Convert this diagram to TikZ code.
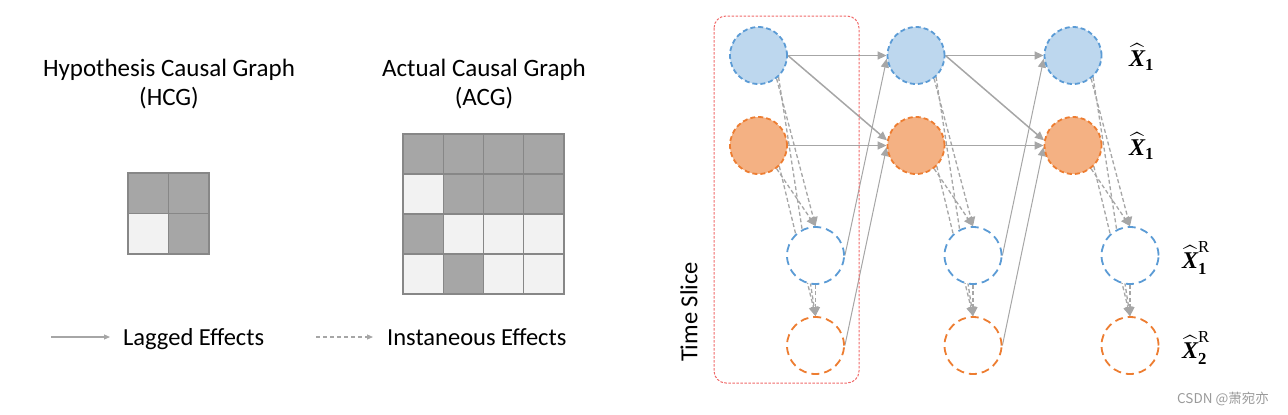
\documentclass[tikz,border=0pt]{standalone}
\usepackage{amsmath}
\usepackage{fontspec}
\setmainfont{Carlito}
\newfontfamily\cjk{Noto Sans CJK SC}
\newfontfamily\lsf{Liberation Serif}
\usetikzlibrary{arrows.meta}
\pgfdeclarelayer{bg}
\pgfsetlayers{bg,main}
\definecolor{cdark}{HTML}{A6A6A6}
\definecolor{clight}{HTML}{F2F2F2}
\definecolor{gridc}{HTML}{878787}
\definecolor{bfill}{HTML}{BDD7EE}
\definecolor{bline}{HTML}{5B9BD5}
\definecolor{ofill}{HTML}{F4B183}
\definecolor{oline}{HTML}{ED7D31}
\definecolor{arrc}{HTML}{A6A6A6}
\definecolor{boxred}{HTML}{F06A6A}
\definecolor{wm}{HTML}{9A9A9A}
\newcommand{\xh}[1]{\widehat{\text{\lsf\bfseries\itshape X}}_{\text{\lsf\bfseries #1}}}
\begin{document}
\begin{tikzpicture}[x=1pt,y=-1pt,
  cellbox/.style={draw=gridc, line width=1.2pt},
  big/.style={circle, minimum size=57pt, inner sep=0pt, line width=1.8pt, dash pattern=on 5pt off 3pt},
  bigB/.style={big, fill=bfill, draw=bline},
  bigO/.style={big, fill=ofill, draw=oline},
  small/.style={circle, minimum size=57pt, inner sep=0pt, fill=white, line width=1.8pt, dash pattern=on 8pt off 5pt},
  smallB/.style={small, draw=bline},
  smallO/.style={small, draw=oline},
  lag/.style={draw=arrc, line width=1.5pt, -{Triangle[length=9pt,width=8pt]}},
  lagthin/.style={lag, line width=1pt},
  inst/.style={draw=arrc, line width=1.3pt, dash pattern=on 4pt off 2.5pt, -{Triangle[length=9pt,width=9pt]}},
  lbl/.style={inner sep=0pt, font=\fontsize{24.5}{28}\selectfont},
  title/.style={inner sep=0pt, font=\fontsize{25}{28}\selectfont},
  xl/.style={inner sep=0pt, font=\fontsize{24}{27}\selectfont}
]
\useasboundingbox (0,0) rectangle (1288,415);

% titles
\node[title, anchor=base] (t1) at (169,76) {Hypothesis Causal Graph};
\node[title, anchor=base] (t2) at (169,105) {(HCG)};
\node[title, anchor=base] (t3) at (484,76) {Actual Causal Graph};
\node[title, anchor=base] (t4) at (484,105) {(ACG)};

% HCG grid
\foreach \r/\c/\f in {0/0/cdark,0/1/cdark,1/0/clight,1/1/cdark}{
  \draw[cellbox, fill=\f] (128+\c*40.5,173+\r*40.5) rectangle ++(40.5,40.5);
}
% ACG grid
\foreach \r/\c/\f in {0/0/cdark,0/1/cdark,0/2/cdark,0/3/cdark,
                      1/0/clight,1/1/cdark,1/2/cdark,1/3/cdark,
                      2/0/cdark,2/1/clight,2/2/clight,2/3/clight,
                      3/0/clight,3/1/cdark,3/2/clight,3/3/clight}{
  \draw[cellbox, fill=\f] (403+\c*40.25,134+\r*40) rectangle ++(40.25,40);
}

% legend
\coordinate (la1) at (51,337);
\coordinate (la2) at (110,337);
\draw[lag, line width=1.1pt, -{Triangle[length=6pt,width=5pt]}] (la1) -- (la2);
\node[lbl, anchor=base west] (ll1) at (123,345) {Lagged Effects};
\coordinate (lb1a) at (316,337);
\coordinate (lb2a) at (373,337);
\draw[inst, line width=1.1pt, dash pattern=on 4pt off 3pt, -{Triangle[length=6pt,width=5pt]}] (lb1a) -- (lb2a);
\node[lbl, anchor=base west] (ll2) at (387,345) {Instaneous Effects};

% time slice box
\draw[boxred, line width=1pt, dash pattern=on 2.5pt off 1.5pt, rounded corners=12pt] (714,16) rectangle (859,383);
\node[lbl, rotate=90] (ts) at (689,312) {Time Slice};

% nodes
\foreach \i/\x in {1/758.5,2/916,3/1073}{
  \node[bigB] (b\i) at (\x,55.5) {};
  \node[bigO] (o\i) at (\x,145.5) {};
  \node[smallB] (s\i) at (\x+57,255.5) {};
  \node[smallO] (r\i) at (\x+57,345.5) {};
}

\begin{pgfonlayer}{bg}
\foreach \i in {1,2,3}{
  \draw[inst] (b\i.-47) -- (r\i.north);
  \draw[inst] (b\i.-52) -- (s\i.north);
  \draw[inst] (o\i.-45) -- (r\i.north);
  \draw[inst] (o\i.-52) -- (s\i.north);
  \draw[inst] (s\i.south) -- (r\i.north);
}
\foreach \i/\j in {1/2,2/3}{
  \draw[lag] (b\i.east) -- (b\j.west);
  \draw[lag] (b\i.east) -- (o\j.170);
  \draw[lag] (o\i.east) -- (o\j.west);
  \draw[lagthin] (s\i.east) -- (b\j.186);
  \draw[lagthin] (r\i.east) -- (o\j.183);
}
\end{pgfonlayer}

% labels
\node[xl, anchor=west] (x1) at (1129,57) {$\xh{1}$};
\node[xl, anchor=west] (x2) at (1129,146) {$\xh{1}$};
\node[xl, anchor=west] (x3) at (1182,258) {$\xh{1}^{\text{\lsf R}}$};
\node[xl, anchor=west] (x4) at (1182,348) {$\xh{2}^{\text{\lsf R}}$};

% watermark
\node[inner sep=0pt, text=wm, font=\cjk\fontsize{13.5}{15}\selectfont] (wmk) at (1223,399) {CSDN @萧宛亦};
\end{tikzpicture}
\end{document}
